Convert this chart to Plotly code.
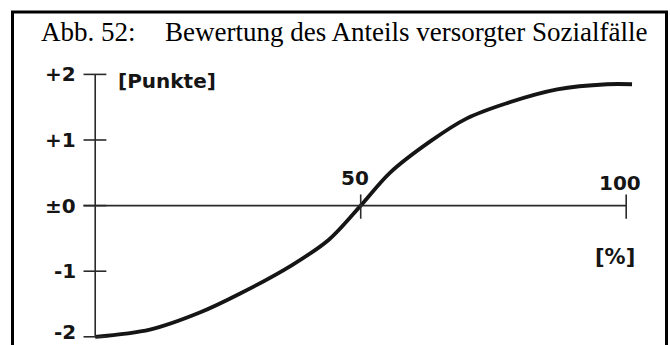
import plotly.graph_objects as go

# Curve: score (Punkte) as a function of the share of cared-for social cases (%)
share_pct = [0, 10.3, 19.7, 27.3, 37.0, 44.0, 50.0, 55.5, 63.3, 70.0, 77.5, 87.0, 96.4, 101.1]
points = [-2.0, -1.89, -1.63, -1.34, -0.91, -0.52, 0.0, 0.50, 0.99, 1.33, 1.56, 1.77, 1.85, 1.85]

# Axis ticks and labels
y_ticks = [2, 1, 0, -1, -2]
y_tick_text = ["+2", "+1", "±0", "-1", "-2"]
y_label_pos = [2, 1, 0, -1, -1.92]
x_ticks = [50, 100]
x_tick_text = ["50", "100"]

title_num = "Abb. 52:"
title_text = "Bewertung des Anteils versorgter Sozialfälle"
y_unit = "[Punkte]"
x_unit = "[%]"

W, H = 670, 345
X_RANGE = [-17.93, 108.25]
Y_RANGE = [-2.125, 3.134]

INK = "#151515"
HAND = dict(family="DejaVu Sans", size=20, color=INK, weight="bold")

fig = go.Figure()

fig.add_trace(go.Scatter(
    x=share_pct, y=points, mode="lines",
    line=dict(color=INK, width=3.8, shape="spline", smoothing=0.9),
    hoverinfo="skip", showlegend=False,
))

shapes = []
axis_line = dict(color="#2a2a2a", width=1.6)
# vertical axis from -2 to +2
shapes.append(dict(type="line", xref="x", yref="y", x0=0, x1=0, y0=-2, y1=2, line=axis_line))
# horizontal axis from the ±0 tick to 100 %
shapes.append(dict(type="line", xref="x", yref="y", x0=-2.2, x1=100, y0=0, y1=0, line=axis_line))
# y-axis ticks crossing the axis
for v in y_ticks:
    shapes.append(dict(type="line", xref="x", yref="y", x0=-2.2, x1=2.1, y0=v, y1=v, line=axis_line))
# x-axis ticks crossing the axis
for v in x_ticks:
    shapes.append(dict(type="line", xref="x", yref="y", x0=v, x1=v, y0=-0.2, y1=0.17, line=axis_line))
# frame around the figure
shapes.append(dict(type="rect", xref="paper", yref="paper",
                   x0=12.5 / W, x1=666.5 / W, y0=-0.05, y1=1 - 12 / H,
                   line=dict(color="black", width=3)))

annotations = []
for v, t in zip(y_label_pos, y_tick_text):
    annotations.append(dict(x=-3.3, y=v, xref="x", yref="y", text=t, showarrow=False,
                            xanchor="right", yanchor="middle", font=HAND))
annotations.append(dict(x=49.0, y=0.42, xref="x", yref="y", text=x_tick_text[0], showarrow=False,
                        xanchor="center", yanchor="middle", font=HAND))
annotations.append(dict(x=98.8, y=0.35, xref="x", yref="y", text=x_tick_text[1], showarrow=False,
                        xanchor="center", yanchor="middle", font=HAND))
annotations.append(dict(x=4.0, y=1.9, xref="x", yref="y", text=y_unit, showarrow=False,
                        xanchor="left", yanchor="middle", font=HAND))
annotations.append(dict(x=97.9, y=-0.78, xref="x", yref="y", text=x_unit, showarrow=False,
                        xanchor="center", yanchor="middle", font=dict(HAND, size=21)))

SERIF = dict(family="Liberation Serif", size=27, color="black")
annotations.append(dict(x=39 / W, y=1 - 32 / H, xref="paper", yref="paper", text=title_num,
                        showarrow=False, xanchor="left", yanchor="middle", font=SERIF))
annotations.append(dict(x=163 / W, y=1 - 32 / H, xref="paper", yref="paper", text=title_text,
                        showarrow=False, xanchor="left", yanchor="middle", font=SERIF))

fig.update_layout(
    width=W, height=H,
    margin=dict(l=0, r=0, t=0, b=0),
    paper_bgcolor="white", plot_bgcolor="white",
    xaxis=dict(range=X_RANGE, visible=False, fixedrange=True),
    yaxis=dict(range=Y_RANGE, visible=False, fixedrange=True),
    shapes=shapes, annotations=annotations,
)

fig.write_html("out.html")
